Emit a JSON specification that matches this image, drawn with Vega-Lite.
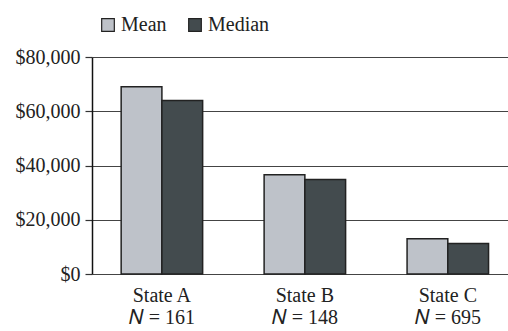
{
  "$schema": "https://vega.github.io/schema/vega-lite/v6.json",
  "autosize": {"type": "none"},
  "width": 416,
  "height": 217,
  "padding": {"left": 92, "top": 57, "right": 0, "bottom": 57},
  "background": "white",
  "config": {
    "view": {"stroke": null},
    "font": "Liberation Serif"
  },
  "data": {
    "values": [
      {"state": "State A", "n": "161", "stat": "Mean", "value": 69000},
      {"state": "State A", "n": "161", "stat": "Median", "value": 64000},
      {"state": "State B", "n": "148", "stat": "Mean", "value": 36600},
      {"state": "State B", "n": "148", "stat": "Median", "value": 34800},
      {"state": "State C", "n": "695", "stat": "Mean", "value": 13000},
      {"state": "State C", "n": "695", "stat": "Median", "value": 11200}
    ]
  },
  "mark": {"type": "bar", "stroke": "#222222", "strokeWidth": 1.5},
  "encoding": {
    "x": {
      "field": "state",
      "type": "nominal",
      "sort": ["State A", "State B", "State C"],
      "scale": {"paddingInner": 0.43, "paddingOuter": 0.17, "align": 0.6},
      "axis": {
        "title": null,
        "domain": false,
        "ticks": false,
        "labelAngle": 0,
        "labelFont": "Liberation Serif",
        "labelFontSize": 20,
        "labelColor": "#222222",
        "labelPadding": 11,
        "labelLineHeight": 22,
        "labelExpr": "[datum.label, (datum.label == 'State A' ? '𝑁 = 161' : datum.label == 'State B' ? '𝑁 = 148' : '𝑁 = 695')]"
      }
    },
    "xOffset": {
      "field": "stat",
      "type": "nominal",
      "sort": ["Mean", "Median"],
      "scale": {"paddingInner": 0, "paddingOuter": 0}
    },
    "y": {
      "field": "value",
      "type": "quantitative",
      "scale": {"domain": [0, 80000], "nice": false},
      "axis": {
        "title": null,
        "values": [0, 20000, 40000, 60000, 80000],
        "format": "$,.0f",
        "labelFont": "Liberation Serif",
        "labelFontSize": 20,
        "labelColor": "#222222",
        "labelPadding": 5,
        "domain": true,
        "domainColor": "#111111",
        "domainWidth": 1.5,
        "ticks": true,
        "tickSize": 7,
        "tickColor": "#333333",
        "tickWidth": 1.2,
        "grid": true,
        "gridColor": "#444444",
        "gridWidth": 1.2
      }
    },
    "fill": {
      "field": "stat",
      "type": "nominal",
      "sort": ["Mean", "Median"],
      "scale": {"domain": ["Mean", "Median"], "range": ["#bec2c9", "#434b4e"]},
      "legend": {
        "title": null,
        "orient": "top",
        "direction": "horizontal",
        "offset": 22,
        "padding": 0,
        "symbolType": "square",
        "symbolSize": 160,
        "symbolStrokeColor": "#222222",
        "symbolStrokeWidth": 1.2,
        "symbolOffset": 6,
        "labelFont": "Liberation Serif",
        "labelFontSize": 20,
        "labelColor": "#222222",
        "labelOffset": 3,
        "columnPadding": 12
      }
    }
  }
}
